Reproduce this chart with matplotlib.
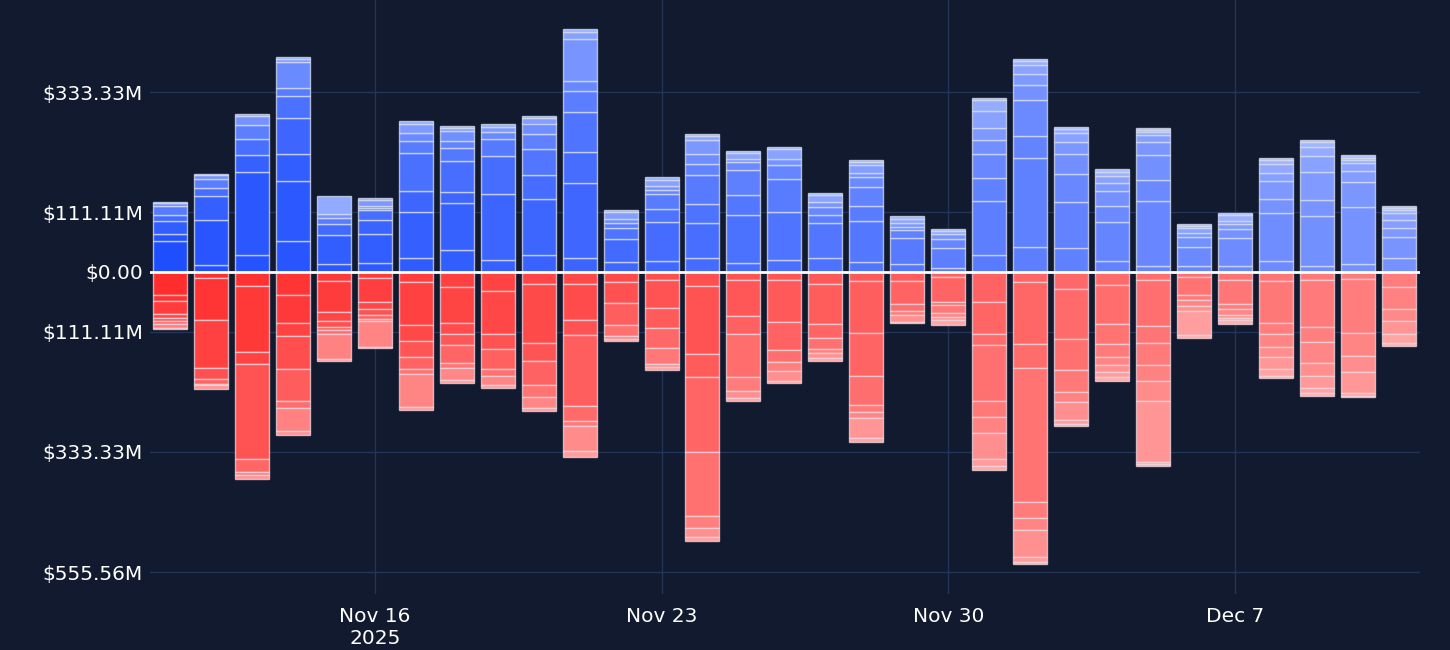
import numpy as np
import pandas as pd
import matplotlib
matplotlib.use('Agg')
import matplotlib.pyplot as plt
import matplotlib.dates as mdates
from matplotlib.ticker import FuncFormatter, FixedLocator

# daily flows, $M, split into segments (bottom of stack first)
days = pd.date_range('2025-11-11', '2025-12-11', freq='D')

inflow_parts = [
    [57, 14, 23, 11, 18, 4, 2],
    [13, 83, 44, 16, 17, 6, 3],
    [31, 154, 31, 30, 27, 15, 4],
    [57, 111, 50, 67, 41, 15, 47, 6, 4],
    [15, 54, 20, 11, 8, 33],
    [17, 54, 26, 17, 4, 5, 10, 4],
    [26, 86, 38, 70, 23, 14, 17, 6],
    [41, 86, 22, 56, 24, 13, 19, 5, 4],
    [23, 122, 70, 31, 13, 9, 6],
    [31, 105, 43, 48, 28, 20, 10, 4],
    [26, 139, 58, 73, 39, 18, 79, 12, 6],
    [19, 42, 21, 9, 8, 12, 4],
    [21, 71, 25, 27, 8, 7, 12, 4],
    [26, 64, 36, 54, 20, 19, 26, 6, 4],
    [17, 88, 38, 46, 15, 6, 10, 5],
    [22, 89, 62, 26, 10, 18, 5],
    [26, 64, 15, 16, 9, 12, 5],
    [19, 75, 28, 35, 19, 7, 16, 5, 4],
    [15, 48, 14, 7, 7, 8, 4],
    [8, 36, 17, 9, 6, 4],
    [31, 101, 42, 45, 25, 22, 33, 19, 4],
    [47, 164, 41, 66, 29, 20, 17, 6, 4],
    [44, 86, 51, 37, 23, 17, 7, 4],
    [20, 72, 30, 28, 14, 13, 9, 4],
    [12, 119, 39, 46, 25, 12, 6, 4, 4],
    [11, 36, 17, 9, 9, 4, 3],
    [11, 52, 16, 9, 6, 11, 4],
    [20, 90, 25, 33, 15, 17, 7, 4],
    [12, 91, 31, 52, 28, 17, 9, 4],
    [14, 107, 46, 20, 14, 7, 4, 4],
    [26, 38, 17, 16, 12, 6, 4, 4],
]

# outflows, $M, from the zero line downwards
outflow_parts = [
    [43, 10, 25, 7, 6, 5, 7, 3],
    [12, 76, 90, 20, 9, 3, 6],
    [25, 124, 22, 175, 25, 5, 7],
    [43, 52, 24, 61, 59, 12, 44, 6],
    [17, 57, 17, 11, 6, 6, 48, 2],
    [11, 45, 12, 12, 7, 4, 47, 2],
    [19, 80, 28, 30, 23, 8, 62, 5],
    [27, 68, 19, 21, 33, 10, 22, 5],
    [36, 78, 29, 36, 13, 18, 5],
    [23, 109, 33, 44, 23, 19, 7],
    [23, 65, 29, 131, 28, 9, 46, 11],
    [18, 40, 41, 19, 6, 4],
    [14, 52, 38, 36, 30, 6, 6],
    [25, 126, 44, 138, 119, 22, 17, 7],
    [15, 66, 33, 81, 25, 13, 6],
    [15, 78, 52, 22, 17, 17, 5],
    [23, 74, 26, 20, 7, 9, 6],
    [17, 96, 80, 54, 13, 10, 37, 7],
    [16, 44, 13, 6, 14, 2],
    [10, 46, 5, 14, 9, 5, 9],
    [55, 60, 21, 102, 30, 30, 48, 14, 6],
    [18, 115, 44, 249, 30, 22, 49, 10, 4],
    [31, 93, 57, 42, 18, 33, 7, 4],
    [24, 73, 36, 25, 14, 14, 9, 6],
    [15, 85, 31, 41, 29, 37, 113, 5, 4],
    [9, 33, 10, 11, 10, 44, 6],
    [14, 45, 10, 10, 6, 4, 7],
    [17, 78, 19, 24, 20, 22, 13, 4],
    [15, 87, 27, 39, 25, 22, 9, 6],
    [13, 100, 43, 30, 38, 5, 2],
    [28, 40, 22, 24, 17, 6],
]

y_ticks = [333.33, 111.11, 0, -111.11, -333.33, -555.56]
x_ticks = ['2025-11-16', '2025-11-23', '2025-11-30', '2025-12-07']
x_labels = ['Nov 16\n2025', 'Nov 23', 'Nov 30', 'Dec 7']

bg = '#111a2e'
grid = '#233456'

def shade(start, end, target, i, n_days, k, n_seg, amount):
    base = start + (end - start) * i / (n_days - 1)
    t = k / max(n_seg - 1, 1)
    c = base + (target - base) * amount * t ** 1.6
    return tuple(c / 255)

blue0, blue1, blue_hi = np.array([31, 78, 255.]), np.array([118, 146, 255.]), np.array([215, 225, 255.])
red0, red1, red_hi = np.array([255, 45, 45.]), np.array([255, 125, 125.]), np.array([255, 215, 215.])

fig = plt.figure(figsize=(14.5, 6.5), dpi=100, facecolor=bg)
ax = fig.add_axes([150/1450, 56/650, 1270/1450, 594/650])
ax.set_facecolor(bg)

x = mdates.date2num(days)
w = 0.83
n = len(days)
for i in range(n):
    parts = inflow_parts[i]
    bottom = 0
    for k, v in enumerate(parts):
        ax.bar(x[i], v, w, bottom=bottom,
               color=shade(blue0, blue1, blue_hi, i, n, k, len(parts), 0.6),
               edgecolor=(0.85, 0.88, 0.95, 0.75), linewidth=1, zorder=2)
        bottom += v
    parts = outflow_parts[i]
    bottom = 0
    for k, v in enumerate(parts):
        ax.bar(x[i], -v, w, bottom=bottom,
               color=shade(red0, red1, red_hi, i, n, k, len(parts), 0.6),
               edgecolor=(0.95, 0.85, 0.88, 0.75), linewidth=1, zorder=2)
        bottom -= v

ax.axhline(0, color='white', lw=2, zorder=4)

ax.set_xlim(x[0] - 0.49, x[-1] + 0.52)
ax.set_ylim(-(594 - 272) / 0.54, 272 / 0.54)

ax.yaxis.set_major_locator(FixedLocator(y_ticks))
ax.yaxis.set_major_formatter(FuncFormatter(lambda v, p: '$0.00' if v == 0 else '$%.2fM' % abs(v)))
ax.set_xticks(mdates.date2num(pd.to_datetime(x_ticks)))
ax.set_xticklabels(x_labels)

ax.grid(True, color=grid, lw=1, zorder=0)
ax.set_axisbelow(True)
for s in ax.spines.values():
    s.set_visible(False)
ax.tick_params(axis='both', length=0, colors='white', labelsize=14.5)
ax.tick_params(axis='y', pad=5)
ax.tick_params(axis='x', pad=9)

fig.savefig('out.png', dpi=100, facecolor=bg)
